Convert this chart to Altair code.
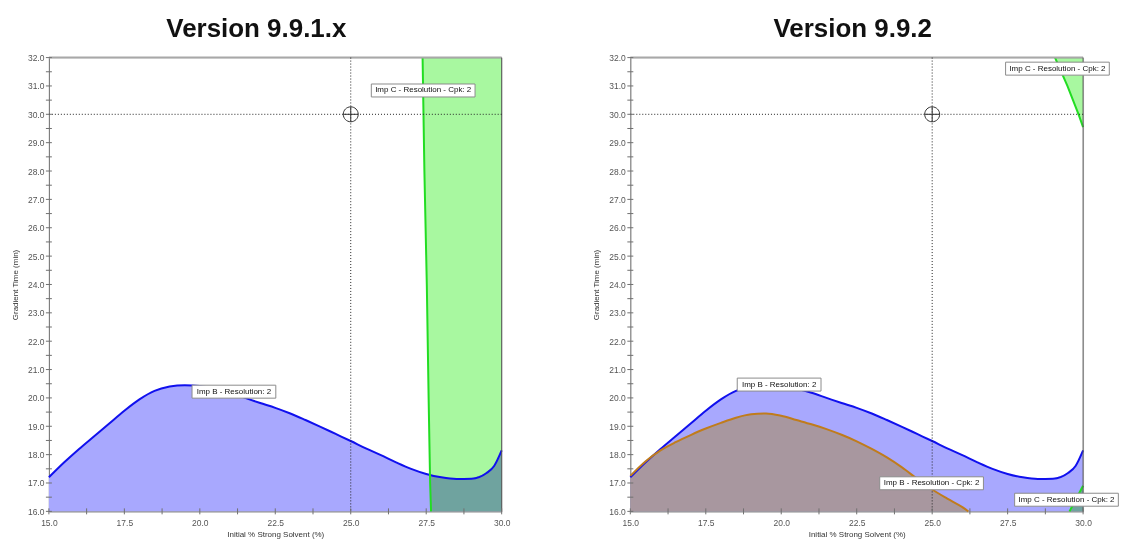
import altair as alt
import pandas as pd

# ---------------- data ----------------
blue_x = [15.0, 15.5, 16.0, 16.5, 17.0, 17.5, 18.0, 18.5, 19.0, 19.5, 20.0, 20.5, 21.0, 21.5,
          22.0, 22.5, 23.0, 23.5, 24.0, 24.5, 25.0, 25.5, 26.0, 26.5, 27.0, 27.5, 28.0, 28.5,
          29.0, 29.5, 29.75, 30.0]
blue_y = [17.2, 17.72, 18.2, 18.65, 19.1, 19.55, 19.95, 20.25, 20.4, 20.45, 20.42, 20.32, 20.18, 20.0,
          19.82, 19.65, 19.45, 19.22, 18.98, 18.73, 18.48, 18.22, 17.98, 17.73, 17.5, 17.32, 17.2, 17.14,
          17.15, 17.35, 17.6, 18.15]

brown_x = [15.0, 15.5, 16.0, 16.5, 17.0, 17.5, 18.0, 18.5, 19.0, 19.5, 20.0, 20.5, 21.0, 21.5,
           22.0, 22.5, 23.0, 23.5, 24.0, 24.5, 25.0, 25.5, 26.0, 26.2]
brown_y = [17.25, 17.76, 18.15, 18.44, 18.69, 18.92, 19.12, 19.3, 19.42, 19.45, 19.37, 19.22, 19.07, 18.9,
           18.7, 18.47, 18.2, 17.9, 17.55, 17.15, 16.77, 16.45, 16.15, 16.0]

green_left_y = [16.0, 17.0, 20.0, 24.0, 28.0, 32.0]
green_left_x = [27.66, 27.63, 27.58, 27.52, 27.44, 27.38]

green_top_y = [29.55, 30.0, 31.0, 32.0]
green_top_x = [30.0, 29.85, 29.48, 29.07]

green_bot_y = [16.0, 16.9]
green_bot_x = [29.55, 30.0]

y_ticks = [16.0, 17.0, 18.0, 19.0, 20.0, 21.0, 22.0, 23.0, 24.0, 25.0, 26.0, 27.0, 28.0, 29.0,
           30.0, 31.0, 32.0]
y_minor = [16.5, 17.5, 18.5, 19.5, 20.5, 21.5, 22.5, 23.5, 24.5, 25.5, 26.5, 27.5, 28.5, 29.5,
           30.5, 31.5]
x_ticks = [15.0, 17.5, 20.0, 22.5, 25.0, 27.5, 30.0]
x_minor = [16.25, 18.75, 21.25, 23.75, 26.25, 28.75]

cross_x = 25.0
cross_y = 30.0

left_short_labels = ["Imp B - Resolution: 2"]
left_short_lx = [21.13]
left_short_ly = [20.22]
left_long_labels = ["Imp C - Resolution - Cpk: 2"]
left_long_lx = [27.4]
left_long_ly = [30.84]

right_short_labels = ["Imp B - Resolution: 2"]
right_short_lx = [19.93]
right_short_ly = [20.47]
right_long_labels = ["Imp B - Resolution - Cpk: 2", "Imp C - Resolution - Cpk: 2", "Imp C - Resolution - Cpk: 2"]
right_long_lx = [24.98, 29.15, 29.45]
right_long_ly = [16.99, 31.61, 16.41]

X_MIN, X_MAX, Y_MIN, Y_MAX = 15.0, 30.0, 16.0, 32.0

# ---------------- styling ----------------
FONT = "Liberation Sans"
PW, PH = 454, 455
BLUE_FILL = "#a8a8fe"
BLUE_LINE = "#1010ee"
GREEN_FILL = "#a8f8a0"
GREEN_LINE = "#22dd22"
BROWN_LINE = "#c07c1c"
BROWN_FILL = "#ffe6a0"

xs = alt.Scale(domain=[X_MIN, X_MAX], nice=False, zero=False)
ys = alt.Scale(domain=[Y_MIN, Y_MAX], nice=False, zero=False)
x_axis = alt.Axis(values=x_ticks, format=".1f", title="Initial % Strong Solvent (%)", ticks=False,
                  grid=False, labelPadding=7, titlePadding=4, domainColor="#707070", labelFlush=False,
                  labelColor="#555555", titleColor="#333333", labelFontSize=8.5, titleFontSize=8,
                  labelFont=FONT, titleFont=FONT, titleFontWeight="normal")
y_axis = alt.Axis(values=y_ticks, format=".1f", title="Gradient Time (min)", ticks=False,
                  grid=False, labelPadding=5, titlePadding=8, domainColor="#707070", labelFlush=False,
                  labelColor="#555555", titleColor="#333333", labelFontSize=8.5, titleFontSize=8,
                  labelFont=FONT, titleFont=FONT, titleFontWeight="normal")


def X(field="x"):
    return alt.X(field, type="quantitative", scale=xs, axis=x_axis)


def Y(field="y"):
    return alt.Y(field, type="quantitative", scale=ys, axis=y_axis)


CROSSHAIR = "M-1,0A1,1 0 1,1 1,0A1,1 0 1,1 -1,0ZM-1,0H1M0,-1V1"


def panel(title, title_dx, curves, areas, greens, short_lab, long_lab):
    layers = []
    for xs_, ys_, fill, blend in areas:
        df = pd.DataFrame({"x": xs_, "y": ys_})
        kw = {"blend": blend} if blend else {}
        layers.append(alt.Chart(df).mark_area(color=fill, opacity=1, **kw).encode(
            x=X(), y=Y(), y2=alt.datum(Y_MIN)))
    for gx, gy in greens:
        df = pd.DataFrame({"x": gx, "y": gy, "x2": [X_MAX] * len(gx)})
        layers.append(alt.Chart(df).mark_area(orient="horizontal", color=GREEN_FILL, opacity=1,
                                              blend="multiply").encode(
            y=Y(), x=X(), x2="x2:Q"))
    for xs_, ys_, col in curves:
        df = pd.DataFrame({"x": xs_, "y": ys_})
        layers.append(alt.Chart(df).mark_line(color=col, strokeWidth=2, interpolate="monotone").encode(
            x=X(), y=Y()))
    for gx, gy in greens:
        df = pd.DataFrame({"x": gx, "y": gy})
        layers.append(alt.Chart(df).mark_line(color=GREEN_LINE, strokeWidth=2).encode(
            x=X(), y=Y(), order=alt.Order("y:Q")))
    # borders: top gray and right dark gray
    layers.append(alt.Chart(pd.DataFrame({"y": [Y_MAX]})).mark_rule(color="#a8a8a8", strokeWidth=2).encode(
        y=Y()))
    layers.append(alt.Chart(pd.DataFrame({"x": [X_MAX]})).mark_rule(color="#555555", strokeWidth=1).encode(
        x=X()))
    # crosshair dotted lines
    layers.append(alt.Chart(pd.DataFrame({"x": [cross_x]})).mark_rule(
        color="#222222", strokeWidth=1, strokeDash=[1, 2]).encode(x=X()))
    layers.append(alt.Chart(pd.DataFrame({"y": [cross_y]})).mark_rule(
        color="#222222", strokeWidth=1, strokeDash=[1, 2]).encode(y=Y()))
    layers.append(alt.Chart(pd.DataFrame({"x": [cross_x], "y": [cross_y]})).mark_point(
        shape=CROSSHAIR, size=225, filled=False, color="#333333", strokeWidth=1, opacity=1).encode(
        x=X(), y=Y()))
    # tick marks crossing the axes
    layers.append(alt.Chart(pd.DataFrame({"y": y_ticks + y_minor})).mark_rule(
        color="#707070", strokeWidth=1).encode(y=Y(), x=alt.value(-3), x2=alt.value(3)))
    layers.append(alt.Chart(pd.DataFrame({"x": x_ticks + x_minor})).mark_rule(
        color="#707070", strokeWidth=1).encode(x=X(), y=alt.value(PH - 3), y2=alt.value(PH + 3)))
    # labels
    for (texts, lx, ly), bw in [(short_lab, 84), (long_lab, 104)]:
        df = pd.DataFrame({"x": lx, "y": ly, "t": texts})
        layers.append(alt.Chart(df).mark_rect(width=bw, height=13, fill="white",
                                              stroke="#8c8c8c", strokeWidth=1, opacity=1).encode(
            x=X(), y=Y()))
        layers.append(alt.Chart(df).mark_text(font=FONT, fontSize=8, color="#111111", align="center",
                                              baseline="middle").encode(x=X(), y=Y(), text="t:N"))
    # panel title as a text mark
    layers.append(alt.Chart(pd.DataFrame({"t": [title]})).mark_text(
        font=FONT, fontSize=26, fontWeight="bold", color="#111111", align="center",
        baseline="alphabetic").encode(x=alt.value(PW / 2 + title_dx), y=alt.value(-21), text="t:N"))
    return alt.layer(*layers).properties(width=PW, height=PH)


left = panel("Version 9.9.1.x", -19,
             curves=[(blue_x, blue_y, BLUE_LINE)],
             areas=[(blue_x, blue_y, BLUE_FILL, None)],
             greens=[(green_left_x, green_left_y)],
             short_lab=(left_short_labels, left_short_lx, left_short_ly),
             long_lab=(left_long_labels, left_long_lx, left_long_ly))

right = panel("Version 9.9.2", -4,
              curves=[(blue_x, blue_y, BLUE_LINE), (brown_x, brown_y, BROWN_LINE)],
              areas=[(blue_x, blue_y, BLUE_FILL, None), (brown_x, brown_y, BROWN_FILL, "multiply")],
              greens=[(green_top_x, green_top_y), (green_bot_x, green_bot_y)],
              short_lab=(right_short_labels, right_short_lx, right_short_ly),
              long_lab=(right_long_labels, right_long_lx, right_long_ly))

chart = alt.hconcat(left, right, spacing=81).properties(
    padding={"left": 2, "top": 6, "right": 0, "bottom": 0}
).configure_view(stroke=None).configure(background="white")

chart.save("out.html", embed_options={"renderer": "svg", "actions": False})
